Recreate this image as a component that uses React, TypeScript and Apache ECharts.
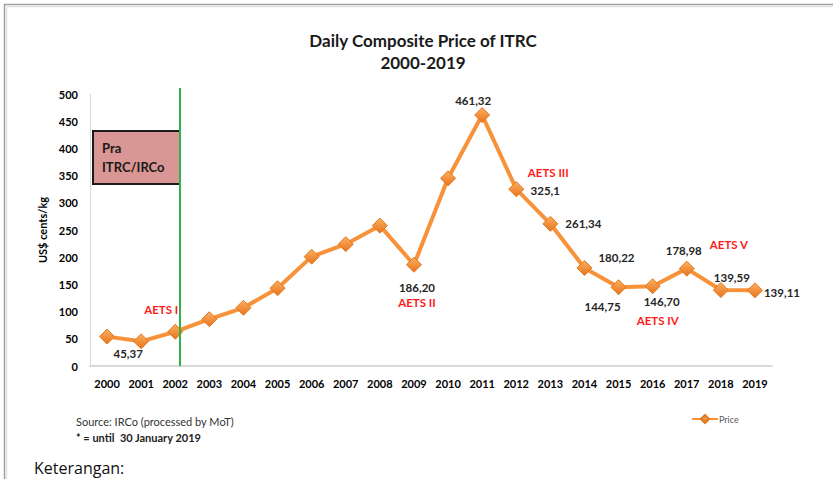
import React, { useEffect, useRef } from "react";
import * as echarts from "echarts";

const years = ["2000","2001","2002","2003","2004","2005","2006","2007","2008","2009","2010","2011","2012","2013","2014","2015","2016","2017","2018","2019"];
const prices = [54, 45.37, 63, 86, 107, 143, 201, 224, 258, 186.2, 345, 461.32, 325.1, 261.34, 180.22, 144.75, 146.7, 178.98, 139.59, 139.11];
const priceLabels = ["", "45,37", "", "", "", "", "", "", "", "186,20", "", "461,32", "325,1", "261,34", "180,22", "144,75", "146,70", "178,98", "139,59", "139,11"];
const yTicks = [0, 50, 100, 150, 200, 250, 300, 350, 400, 450, 500];
const aetsNames = ["AETS I", "AETS II", "AETS III", "AETS IV", "AETS V"];
const aetsYears = ["2002", "2009", "2012", "2016", "2018"];
const aetsLevels = [103, 116, 355, 83, 224];

// layout: label offsets (px) relative to each marker
const labelOffsets: Record<string, [number, number]> = {
  "2001": [-13, 12],
  "2009": [3, 23],
  "2011": [-9, -15],
  "2012": [29, 1],
  "2013": [33, 0],
  "2014": [32, -10],
  "2015": [-16, 19],
  "2016": [9, 15],
  "2017": [-3, -18],
  "2018": [11, -13],
  "2019": [27, 2],
};
const aetsOffsets: [number, number][] = [[-14, 0], [3, 0], [32, 0], [5, 0], [8, 0]];

const FONT = "Lato, 'Noto Sans', sans-serif";

export default function App() {
  const ref = useRef<HTMLDivElement>(null);
  useEffect(() => {
    if (!ref.current) return;
    const chart = echarts.init(ref.current, null, { renderer: "svg" });
    const data = prices.map((v, i) => {
      const txt = priceLabels[i];
      const off = labelOffsets[years[i]] || [0, 0];
      return {
        value: v,
        label: txt
          ? { show: true, position: "inside", offset: off, formatter: txt }
          : { show: false },
      };
    });
    const option: any = {
      animation: false,
      backgroundColor: "#ffffff",
      textStyle: { fontFamily: FONT },
      grid: { left: 90, right: 61, top: 94, bottom: 113, containLabel: false },
      legend: {
        left: 686,
        top: 409,
        itemWidth: 26,
        itemHeight: 10,
        itemGap: 2,
        data: ["Price"],
        textStyle: { fontFamily: FONT, fontSize: 9, color: "#595959", padding: [0, 0, 0, -4] },
      },
      xAxis: {
        type: "category",
        data: years,
        boundaryGap: true,
        axisLine: { show: true, lineStyle: { color: "#d9d9d9", width: 2 } },
        axisTick: { show: false },
        axisLabel: { color: "#000", fontFamily: FONT, fontWeight: "bold", fontSize: 11, margin: 12, interval: 0 },
        splitLine: { show: false },
      },
      yAxis: {
        type: "value",
        min: yTicks[0],
        max: yTicks[yTicks.length - 1],
        interval: yTicks[1] - yTicks[0],
        name: "US$ cents/kg",
        nameLocation: "middle",
        nameRotate: 90,
        nameGap: 42,
        nameTextStyle: { color: "#000", fontFamily: FONT, fontWeight: "bold", fontSize: 11 },
        axisLine: { show: true, lineStyle: { color: "#d9d9d9", width: 1 } },
        axisTick: { show: false },
        axisLabel: { color: "#000", fontFamily: FONT, fontWeight: "bold", fontSize: 11, margin: 12 },
        splitLine: { show: false },
      },
      series: [
        {
          name: "Price",
          type: "line",
          data,
          symbol: "diamond",
          symbolSize: 15,
          lineStyle: { color: "#f7923a", width: 4 },
          itemStyle: {
            color: new echarts.graphic.LinearGradient(0, 0, 0, 1, [
              { offset: 0, color: "#fbb061" },
              { offset: 1, color: "#e8741c" },
            ]),
            borderColor: "#e07a22",
            borderWidth: 1,
          },
          label: {
            color: "#262626",
            fontFamily: FONT,
            fontWeight: "bold",
            fontSize: 11.5,
          },
          markPoint: {
            symbol: "circle",
            symbolSize: 1,
            itemStyle: { color: "rgba(0,0,0,0)" },
            label: { show: true, position: "inside", color: "#ff1a1a", fontFamily: FONT, fontWeight: "bold", fontSize: 11.5 },
            data: aetsNames.map((n, i) => ({
              name: n,
              coord: [aetsYears[i], aetsLevels[i]],
              label: { formatter: n, offset: aetsOffsets[i] },
            })),
          },
        },
      ],
      graphic: [
        { type: "line", z: 200, shape: { x1: 4, y1: 4.5, x2: 833, y2: 4.5 }, style: { stroke: "#a0a0a0", lineWidth: 1.5 } },
        { type: "line", z: 200, shape: { x1: 4.5, y1: 4, x2: 4.5, y2: 479 }, style: { stroke: "#a0a0a0", lineWidth: 1.5 } },
        { type: "line", z: 200, shape: { x1: 6, y1: 6.5, x2: 833, y2: 6.5 }, style: { stroke: "#e4e4e4", lineWidth: 1.5 } },
        { type: "line", z: 200, shape: { x1: 6.5, y1: 6, x2: 6.5, y2: 479 }, style: { stroke: "#e4e4e4", lineWidth: 1.5 } },
        {
          type: "text", x: 423, y: 40, z: 100,
          style: { text: "Daily Composite Price of ITRC", fill: "#1a1a1a", font: `bold 17px ${FONT}`, textAlign: "center", textVerticalAlign: "middle" },
        },
        {
          type: "text", x: 423, y: 62, z: 100,
          style: { text: "2000-2019", fill: "#1a1a1a", font: `bold 17px ${FONT}`, textAlign: "center", textVerticalAlign: "middle" },
        },
        {
          type: "rect", z: 90,
          shape: { x: 93, y: 131, width: 87, height: 53 },
          style: { fill: "#d99694", stroke: "#1a1a1a", lineWidth: 2 },
        },
        {
          type: "text", x: 102, y: 148, z: 95,
          style: { text: "Pra", fill: "#1a1a1a", font: `bold 13px ${FONT}`, textVerticalAlign: "middle" },
        },
        {
          type: "text", x: 102, y: 167, z: 95,
          style: { text: "ITRC/IRCo", fill: "#1a1a1a", font: `bold 13px ${FONT}`, textVerticalAlign: "middle" },
        },
        { type: "line", z: 100, shape: { x1: 180, y1: 88, x2: 180, y2: 366 }, style: { stroke: "#2db34a", lineWidth: 2 } },
        {
          type: "text", x: 76, y: 421, z: 100,
          style: { text: "Source: IRCo (processed by MoT)", fill: "#333", font: `11px ${FONT}`, textVerticalAlign: "middle" },
        },
        {
          type: "text", x: 76, y: 437, z: 100,
          style: { text: "* = until  30 January 2019", fill: "#222", font: `bold 11px ${FONT}`, textVerticalAlign: "middle" },
        },
        {
          type: "text", x: 34, y: 476, z: 100,
          style: { text: "Keterangan:", fill: "#111", font: `16px 'Open Sans', sans-serif`, textVerticalAlign: "bottom" },
        },
      ],
    };
    chart.setOption(option);
    return () => chart.dispose();
  }, []);
  return (
    <div
      ref={ref}
      style={{ position: "fixed", left: 0, top: 0, width: 833, height: 479, background: "#fff" }}
    />
  );
}
